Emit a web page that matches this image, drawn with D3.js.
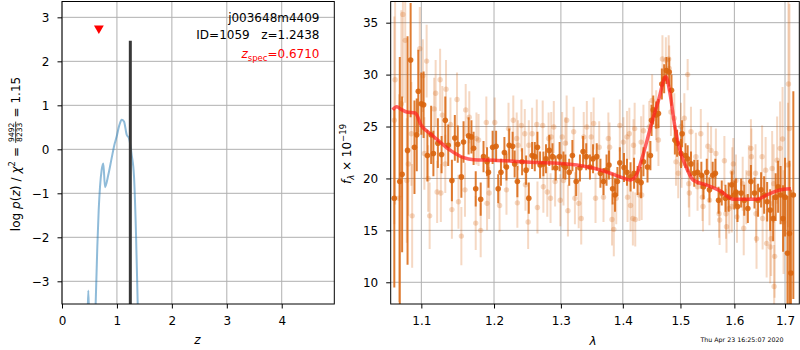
<!DOCTYPE html>
<html><head><meta charset="utf-8">
<script src="https://cdn.jsdelivr.net/npm/d3@7"></script>
<style>body{margin:0;background:#fff} text{font-family:"DejaVu Sans",sans-serif}</style>
</head><body><svg id="c" width="800" height="350"></svg>
<script>
// ---------- Left panel: p(z) ----------
const pzZ    = [0.40,0.462,0.479,0.497,0.55,0.60,0.613,0.643,0.668,0.692,0.722,0.752,0.783,0.843,0.904,0.953,0.995,1.044,1.087,1.129,1.178,1.22,1.269,1.311,1.347,1.378,1.42];
const pzLogP = [-6,-4.0,-3.21,-4.0,-6,-4.2,-3.5,-2.21,-1.38,-0.85,-0.47,-0.32,-0.86,-0.58,-0.2,0.1,0.29,0.55,0.67,0.63,0.33,0.25,-0.13,-0.62,-1.91,-3.5,-5.5];
const zBest = 1.2438, zBestTop = 2.47;
const zSpec = 0.671, zSpecMarker = 2.75;
const leftXTicks = [0,1,2,3,4];
const leftYTicks = [-3,-2,-1,0,1,2,3];

// ---------- Right panel: spectrum ----------
const darkWave = [1.065,1.072,1.075,1.082,1.086,1.091,1.094,1.096,1.100,1.103,1.108,1.113,1.116,1.122,1.127,1.132,1.136,1.141,1.145,1.149,1.154,1.157,1.164,1.168,1.171,1.174,1.181,1.185,1.190,1.192,1.198,1.203,1.206,1.210,1.215,1.218,1.222,1.227,1.230,1.234,1.241,1.247,1.251,1.256,1.260,1.264,1.268,1.273,1.277,1.282,1.287,1.292,1.298,1.304,1.307,1.313,1.318,1.324,1.330,1.335,1.340,1.346,1.351,1.357,1.363,1.368,1.373,1.377,1.383,1.387,1.391,1.395,1.402,1.407,1.413,1.419,1.425,1.431,1.435,1.442,1.447,1.449,1.452,1.457,1.461,1.467,1.471,1.475,1.480,1.484,1.490,1.494,1.501,1.503,1.509,1.513,1.519,1.525,1.531,1.538,1.542,1.548,1.553,1.559,1.564,1.570,1.576,1.583,1.589,1.595,1.600,1.603,1.606,1.613,1.619,1.626,1.632,1.639,1.646,1.652,1.658,1.664,1.670,1.676,1.681,1.686,1.691,1.696,1.700,1.705,1.709,1.712,1.717];
const darkFlux = [18.1,19.7,20.4,22.7,31.4,23.0,24.2,28.4,27.2,27.1,22.2,24.2,22.4,23.4,22.3,25.6,23.2,19.8,23.9,23.3,20.15,23.5,24.1,24.0,22.9,19.0,18.0,22.1,21.6,20.6,23.0,23.1,19.0,20.6,22.5,21.1,23.2,23.1,21.4,19.7,21.6,20.8,18.1,22.2,22.1,23.0,21.3,21.4,21.9,22.7,22.1,21.0,22.1,21.3,21.1,20.6,22.2,19.7,21.0,22.6,22.1,21.1,21.9,22.1,20.5,19.7,20.8,21.3,19.0,18.4,19.7,21.5,21.05,20.6,20.15,20.5,19.8,19.6,21.6,21.1,22.2,25.6,26.6,26.1,26.25,29.1,29.6,30.4,30.25,28.5,23.7,23.4,22.4,24.3,22.2,21.9,21.4,20.5,20.6,20.3,19.2,20.6,18.9,20.3,20.5,17.9,18.6,18.1,18.2,19.4,18.4,18.7,17.3,18.6,17.9,17.1,19.7,18.6,17.9,18.9,18.4,17.75,16.95,16.15,18.2,19.2,18.4,16.15,18.2,12.8,14.7,10.9,18.4];
const darkErr  = [8.6,12,7.5,11,5.5,4.5,3.5,4.0,3.0,3.2,2.5,2.8,2.2,2.4,1.8,2.3,2.0,2.0,2.2,1.8,2.0,2.0,1.8,1.6,1.6,1.7,1.6,1.5,1.4,1.5,1.6,1.5,1.4,1.3,1.5,1.3,1.6,1.4,1.3,1.5,1.3,1.4,1.5,1.3,1.4,1.5,1.3,1.2,1.4,1.5,1.3,1.2,1.4,1.3,1.2,1.3,1.5,1.4,1.3,1.5,1.3,1.2,1.4,1.3,1.4,1.3,1.5,1.4,1.5,1.6,1.4,1.5,1.4,1.3,1.4,1.5,1.4,1.5,1.4,1.5,1.4,1.5,1.4,1.3,1.4,1.5,1.4,1.3,1.4,1.5,1.4,1.3,1.4,1.3,1.2,1.3,1.2,1.3,1.2,1.3,1.2,1.3,1.2,1.3,1.4,1.3,1.2,1.3,1.4,1.3,1.4,1.3,1.5,1.4,1.5,1.4,1.6,1.5,1.6,1.7,1.8,1.9,2.0,2.2,2.3,2.5,2.8,3.2,3.8,5.5,7,8,10];

const lightWave = [1.065,1.066,1.071,1.074,1.076,1.079,1.081,1.083,1.087,1.088,1.098,1.102,1.104,1.107,1.109,1.111,1.117,1.119,1.121,1.125,1.126,1.128,1.132,1.133,1.139,1.141,1.148,1.150,1.154,1.159,1.160,1.165,1.174,1.175,1.178,1.181,1.189,1.190,1.193,1.201,1.208,1.218,1.221,1.228,1.233,1.234,1.235,1.240,1.245,1.246,1.250,1.251,1.256,1.263,1.264,1.272,1.273,1.279,1.281,1.284,1.285,1.289,1.291,1.299,1.302,1.304,1.307,1.309,1.311,1.320,1.322,1.328,1.332,1.336,1.341,1.348,1.352,1.355,1.361,1.368,1.376,1.378,1.382,1.385,1.389,1.395,1.401,1.407,1.408,1.411,1.413,1.417,1.418,1.420,1.421,1.428,1.431,1.432,1.435,1.445,1.450,1.457,1.458,1.461,1.468,1.474,1.479,1.480,1.483,1.489,1.492,1.496,1.501,1.502,1.507,1.513,1.515,1.516,1.519,1.528,1.531,1.537,1.540,1.541,1.550,1.553,1.556,1.565,1.571,1.572,1.581,1.584,1.585,1.590,1.595,1.596,1.598,1.603,1.605,1.616,1.618,1.623,1.628,1.632,1.633,1.641,1.642,1.643,1.654,1.655,1.661,1.663,1.670,1.672,1.674,1.677,1.678,1.679,1.684,1.690,1.695,1.697,1.706,1.707,1.709];
const lightFlux = [25.6,29.5,18.1,27.2,35.8,33.3,19.8,21.4,24.3,16.4,32.5,29.9,22.4,31.3,20.0,16.4,26.7,28.2,18.7,29.5,18.6,26.1,21.4,28.6,25.2,17.0,27.6,17.75,14.45,18.9,26.6,25.9,15.7,23.85,23.7,15.0,25.4,17.6,18.6,25.4,17.4,18.9,24.8,25.6,23.85,17.65,23.2,25.1,24.3,19.4,15.8,23.2,24.3,25.2,17.2,25.1,19.2,18.7,23.85,18.1,24.0,24.96,19.7,17.9,24.0,19.8,23.4,25.6,16.9,24.5,18.1,17.6,16.15,24.0,24.96,24.0,25.3,18.1,23.0,18.2,23.85,23.0,16.05,15.1,18.1,25.1,23.5,24.0,18.2,24.3,17.4,16.15,23.2,24.8,16.05,18.4,23.5,18.4,24.6,24.96,27.5,26.1,25.0,23.7,31.5,31.4,31.5,30.6,26.4,25.8,21.6,20.5,25.0,21.4,25.8,30.0,19.5,18.6,24.5,22.1,19.2,24.3,18.2,17.3,23.1,17.9,22.7,22.4,16.6,16.0,21.7,16.6,15.35,17.1,17.3,20.6,21.4,19.8,16.3,19.5,15.2,18.2,20.5,22.9,22.1,20.5,16.6,14.2,22.1,16.15,20.8,13.75,13.4,14.2,20.96,19.5,9.6,12.5,21.76,22.9,23.8,15.8,21.3,29.1,24.8];
const lightErr  = [10,12,10,9,8,6,6,5,5,5,4,3.5,3.5,3.5,3.2,3.2,3.0,3.2,3.0,3.0,2.8,2.8,2.8,2.8,2.6,2.8,2.6,2.6,2.8,2.6,2.5,2.5,2.6,2.5,2.5,2.6,2.5,2.6,2.5,2.4,2.5,2.4,2.5,2.4,2.5,2.4,2.4,2.5,2.4,2.5,2.6,2.4,2.5,2.4,2.5,2.4,2.5,2.4,2.5,2.4,2.4,2.5,2.4,2.5,2.4,2.4,2.5,2.4,2.5,2.4,2.5,2.4,2.5,2.4,2.5,2.4,2.5,2.4,2.5,2.4,2.5,2.4,2.5,2.6,2.5,2.5,2.4,2.5,2.4,2.5,2.5,2.6,2.5,2.5,2.6,2.5,2.5,2.4,2.5,2.5,2.5,2.4,2.4,2.5,2.3,2.2,2.3,2.2,2.3,2.4,2.3,2.4,2.3,2.3,2.4,1.5,2.3,2.3,2.4,2.3,2.3,2.4,2.3,2.4,2.3,2.4,2.3,2.4,2.3,2.4,2.4,2.4,2.5,2.4,2.5,2.4,2.5,2.5,2.5,2.6,2.6,2.6,2.7,2.8,2.7,2.8,2.8,2.9,3.0,3.0,3.2,3.3,3.5,3.6,3.6,3.8,4.0,4.0,4.2,4.5,5.0,5.0,6.0,8.0,12];

const modelWave = [1.063,1.068,1.075,1.081,1.092,1.100,1.112,1.125,1.139,1.157,1.171,1.200,1.228,1.253,1.300,1.325,1.351,1.379,1.400,1.412,1.421,1.435,1.449,1.461,1.474,1.481,1.490,1.499,1.511,1.523,1.548,1.573,1.598,1.620,1.645,1.663,1.683,1.697,1.712];
const modelFlux = [26.6,26.9,26.6,26.4,26.3,25.1,24.3,23.5,22.7,22.0,21.8,21.75,21.65,21.55,21.45,21.3,21.0,20.5,20.05,19.85,20.15,22.4,25.3,27.5,29.8,28.3,25.0,22.7,21.0,19.85,19.35,18.8,18.0,18.0,18.0,18.4,18.8,18.97,19.0];
const rightXTicks = [1.1,1.2,1.3,1.4,1.5,1.6,1.7];
const rightYTicks = [10,15,20,25,30,35];

const objName = "j003648m4409", objLine = "ID=1059   z=1.2438", zspecVal = "=0.6710";
const dateStamp = "Thu Apr 23 16:25:07 2020";

// ---------- drawing ----------
const svg = d3.select('#c');
const L = {x0:62,x1:334.3,y0:1.5,y1:304};
const R = {x0:390.7,x1:799.3,y0:1.5,y1:304};
const xz = d3.scaleLinear().domain([0,4.957]).range([L.x0,L.x1]);
const yz = d3.scaleLinear().domain([-3.516,3.36]).range([L.y1,L.y0]);
const xl = d3.scaleLog().domain([1.0604,1.7293]).range([R.x0,R.x1]);
const yf = d3.scaleLinear().domain([7.91,37.04]).range([R.y1,R.y0]);
const ORANGE = '#d9650e';

const defs = svg.append('defs');
defs.append('clipPath').attr('id','clipL').append('rect').attr('x',L.x0).attr('y',L.y0).attr('width',L.x1-L.x0).attr('height',L.y1-L.y0);
defs.append('clipPath').attr('id','clipR').append('rect').attr('x',R.x0).attr('y',R.y0).attr('width',R.x1-R.x0).attr('height',R.y1-R.y0);

function grid(P, xs, ys, xt, yt){
  const g = svg.append('g').attr('stroke','#b0b0b0').attr('stroke-width',1);
  xt.forEach(v=>g.append('line').attr('x1',xs(v)).attr('x2',xs(v)).attr('y1',P.y0).attr('y2',P.y1));
  yt.forEach(v=>g.append('line').attr('x1',P.x0).attr('x2',P.x1).attr('y1',ys(v)).attr('y2',ys(v)));
}
grid(L,xz,yz,leftXTicks,leftYTicks);
grid(R,xl,yf,rightXTicks,rightYTicks);

// left content
const gl = svg.append('g').attr('clip-path','url(#clipL)');
const pz = pzZ.map((z,i)=>[z,pzLogP[i]]);
gl.append('path').attr('d', d3.line().x(d=>xz(d[0])).y(d=>yz(d[1])).curve(d3.curveMonotoneX)(pz))
  .attr('fill','none').attr('stroke','#1f77b4').attr('stroke-opacity',0.5).attr('stroke-width',2);
gl.append('line').attr('x1',xz(zBest)).attr('x2',xz(zBest)).attr('y1',L.y1).attr('y2',yz(zBestTop))
  .attr('stroke','#383838').attr('stroke-width',3);
gl.append('path').attr('d',d3.symbol(d3.symbolTriangle,42)())
  .attr('transform',`translate(${xz(zSpec)},${yz(zSpecMarker)}) rotate(180)`).attr('fill','red');

// right content
const gr = svg.append('g').attr('clip-path','url(#clipR)');
function errSeries(w,f,e,barOp,ptOp,r){
  const g = gr.append('g');
  w.forEach((x,i)=>{
    g.append('line').attr('x1',xl(x)).attr('x2',xl(x)).attr('y1',yf(f[i]-e[i])).attr('y2',yf(f[i]+e[i]))
      .attr('stroke',ORANGE).attr('stroke-opacity',barOp).attr('stroke-width',2);
    g.append('circle').attr('cx',xl(x)).attr('cy',yf(f[i])).attr('r',r).attr('fill',ORANGE).attr('fill-opacity',ptOp);
  });
}
errSeries(lightWave,lightFlux,lightErr,0.25,0.25,2.7);
errSeries(darkWave,darkFlux,darkErr,0.85,0.9,2.8);
const model = modelWave.map((w,i)=>[w,modelFlux[i]]);
gr.append('path').attr('d', d3.line().x(d=>xl(d[0])).y(d=>yf(d[1])).curve(d3.curveMonotoneX)(model))
  .attr('fill','none').attr('stroke','#ff2020').attr('stroke-opacity',0.7).attr('stroke-width',3.5);

// frames
[L,R].forEach(P=>svg.append('rect').attr('x',P.x0).attr('y',P.y0).attr('width',P.x1-P.x0).attr('height',P.y1-P.y0)
  .attr('fill','none').attr('stroke','black').attr('stroke-width',1));

// axes
function styleAxis(g){ g.select('.domain').remove(); g.selectAll('text').attr('font-size',12).attr('font-family','DejaVu Sans').attr('fill','black'); g.selectAll('line').attr('stroke','black'); }
svg.append('g').attr('transform',`translate(0,${L.y1})`).call(d3.axisBottom(xz).tickValues(leftXTicks).tickSize(4.5).tickPadding(7.5).tickFormat(d3.format('d'))).call(styleAxis);
svg.append('g').attr('transform',`translate(${L.x0},0)`).call(d3.axisLeft(yz).tickValues(leftYTicks).tickSize(4.5).tickPadding(8).tickFormat(d3.format('d'))).call(styleAxis);
svg.append('g').attr('transform',`translate(0,${R.y1})`).call(d3.axisBottom(xl).tickValues(rightXTicks).tickSize(4.5).tickPadding(7.5).tickFormat(d3.format('.1f'))).call(styleAxis);
svg.append('g').attr('transform',`translate(${R.x0},0)`).call(d3.axisLeft(yf).tickValues(rightYTicks).tickSize(4.5).tickPadding(8).tickFormat(d3.format('d'))).call(styleAxis);

// annotations
const ann = svg.append('g').attr('font-size',12).attr('text-anchor','end');
ann.append('text').attr('x',319.5).attr('y',22).text(objName);
ann.append('text').attr('x',319.5).attr('y',39).style('white-space','pre').text(objLine);
const zs = ann.append('text').attr('x',319.5).attr('y',58).attr('fill','red');
zs.append('tspan').attr('font-style','italic').text('z');
zs.append('tspan').attr('font-size',8.5).attr('dy',2.5).text('spec');
zs.append('tspan').attr('dy',-2.5).text(zspecVal);

// x labels
svg.append('text').attr('x',197.5).attr('y',344).attr('text-anchor','middle').attr('font-size',12).attr('font-style','italic').text('z');
svg.append('text').attr('x',593).attr('y',345).attr('text-anchor','middle').attr('font-size',12).attr('font-style','italic').text('λ');
svg.append('text').attr('x',742).attr('y',342).attr('text-anchor','middle').attr('font-size',6.3).text(dateStamp);

// left y label with fraction (mathtext-like spacing)
(function(){
  const g = svg.append('g').attr('font-size',12);
  const t1 = g.append('text').attr('x',0).attr('y',0);
  t1.append('tspan').text('log');
  t1.append('tspan').attr('dx',4).attr('font-style','italic').text('p');
  t1.append('tspan').text('(');
  t1.append('tspan').attr('font-style','italic').text('z');
  t1.append('tspan').text(')');
  t1.append('tspan').attr('dx',4).text('/');
  t1.append('tspan').attr('dx',4).attr('font-style','italic').text('χ');
  t1.append('tspan').attr('font-size',8.5).attr('dy',-5).text('2');
  t1.append('tspan').attr('dy',5).attr('dx',4).text('=');
  const w1 = t1.node().getComputedTextLength() + 16 + 4;
  const num = g.append('text').attr('font-size',7.6).attr('text-anchor','middle').attr('y',-6).text('9492');
  const fw = num.node().getComputedTextLength()+2;
  num.attr('x',w1+fw/2);
  g.append('text').attr('font-size',7.6).attr('text-anchor','middle').attr('x',w1+fw/2).attr('y',1.5).text('8233');
  g.append('line').attr('x1',w1).attr('x2',w1+fw).attr('y1',-4.3).attr('y2',-4.3).attr('stroke','black').attr('stroke-width',0.8);
  const t3 = g.append('text').attr('x',w1+fw+4).attr('y',0);
  t3.append('tspan').text('=');
  t3.append('tspan').attr('dx',4).text('1.15');
  const total = w1+fw+4+t3.node().getComputedTextLength()+4;
  g.attr('transform',`translate(20,${154+total/2}) rotate(-90)`);
})();

// right y label
(function(){
  const g = svg.append('g').attr('font-size',12);
  const t = g.append('text').attr('x',0).attr('y',0).attr('text-anchor','middle');
  t.append('tspan').attr('font-style','italic').text('f');
  t.append('tspan').attr('font-size',8.5).attr('dy',2.5).attr('font-style','italic').text('λ');
  t.append('tspan').attr('dy',-2.5).text(' × 10');
  t.append('tspan').attr('font-size',8.5).attr('dy',-5).text('−19');
  g.attr('transform','translate(351,154) rotate(-90)');
})();
</script></body></html>
